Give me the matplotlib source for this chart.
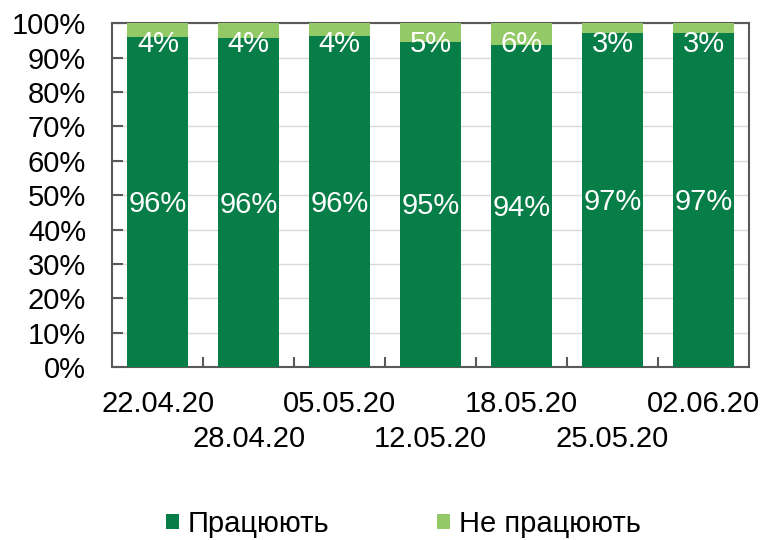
import matplotlib
matplotlib.use("Agg")
import matplotlib.pyplot as plt
import numpy as np

plt.rcParams['font.family'] = ['Liberation Sans', 'DejaVu Sans']

dates = ["22.04.20", "28.04.20", "05.05.20", "12.05.20", "18.05.20", "25.05.20", "02.06.20"]
working = [96.0, 95.7, 96.2, 94.6, 93.7, 97.2, 97.2]
not_working = [4.0, 4.3, 3.8, 5.4, 6.3, 2.8, 2.8]
series_names = ["Працюють", "Не працюють"]

dark = "#077D47"
light = "#93C966"
frame = "#595959"

fig = plt.figure(figsize=(7.65, 5.4), dpi=100)
ax = fig.add_axes([0.147, 0.320, 0.832, 0.637])

x = np.arange(len(dates))
w = 0.67
b1 = ax.bar(x, working, w, color=dark, label=series_names[0], zorder=3)
b2 = ax.bar(x, not_working, w, bottom=working, color=light, label=series_names[1], zorder=3)

fs = 21
for i in range(len(dates)):
    ax.text(x[i], working[i] / 2 - 2.9, f"{round(working[i])}%", ha='center', va='baseline',
            color='white', fontsize=fs, zorder=4)
    ax.text(x[i], 91.5, f"{round(not_working[i])}%", ha='center', va='baseline',
            color='white', fontsize=fs, zorder=4)

ax.set_xlim(-0.5, len(dates) - 0.5)
ax.set_ylim(0, 100)
ax.set_yticks(np.arange(0, 101, 10))
ax.set_yticklabels([f"{v}%" for v in range(0, 101, 10)], fontsize=fs)
ax.yaxis.grid(True, color="#D9D9D9", linewidth=1, zorder=0)
ax.tick_params(axis='y', direction='in', length=8, width=1.5, color=frame, pad=19)

# x: ticks between categories, labels staggered
ax.set_xticks(np.arange(0.5, len(dates) - 0.5, 1.0))
ax.set_xticklabels([])
ax.tick_params(axis='x', direction='in', length=7, width=1.5, color=frame)
for i, d in enumerate(dates):
    yoff = -0.131 if i % 2 == 0 else -0.233
    ax.text(x[i], yoff, d, transform=ax.get_xaxis_transform(), ha='center', va='baseline',
            fontsize=fs, color='black')

for s in ax.spines.values():
    s.set_color(frame)
    s.set_linewidth(1.5)

fig.legend(handles=[b1, b2], labels=series_names, loc='center', bbox_to_anchor=(0.527, 0.03),
           ncol=2, frameon=False, fontsize=fs, handlelength=0.45, handleheight=0.45,
           handletextpad=0.3, columnspacing=3.7, borderpad=0, borderaxespad=0)

fig.savefig("out.png", dpi=100)
